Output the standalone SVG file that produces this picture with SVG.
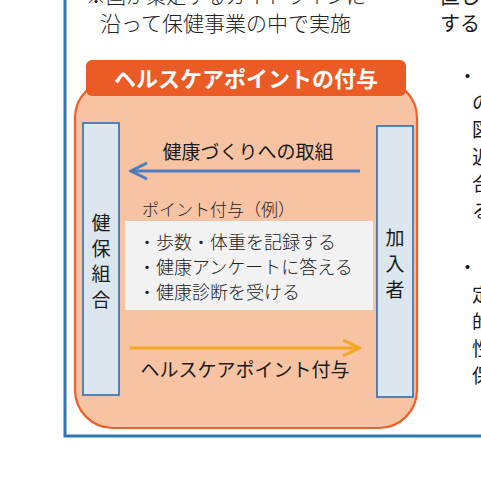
<svg xmlns="http://www.w3.org/2000/svg" width="481" height="496" viewBox="0 0 481 496">
<defs>
<style>
.t{font-family:"Noto Sans CJK JP","Noto Sans",sans-serif;fill:#1a1a1a}
.lt{font-family:"Noto Sans CJK JP","Noto Sans",sans-serif;fill:#222;font-weight:300}
.node{fill:#DCE6EE;stroke:#2E6DB4;stroke-width:1.6}
.v{font-family:"Noto Sans CJK JP","Noto Sans",sans-serif;font-size:19px;fill:#1a1a1a;text-anchor:middle}
</style>
<marker id="hb" viewBox="0 0 20 20" refX="18" refY="10" markerWidth="20" markerHeight="20" markerUnits="userSpaceOnUse" orient="auto">
<path d="M2,2 L18,10 L2,18" fill="none" stroke="#4A7EC2" stroke-width="3"/>
</marker>
<marker id="ho" viewBox="0 0 20 20" refX="18" refY="10" markerWidth="20" markerHeight="20" markerUnits="userSpaceOnUse" orient="auto">
<path d="M2,2 L18,10 L2,18" fill="none" stroke="#F5A623" stroke-width="3"/>
</marker>
</defs>
<rect width="481" height="496" fill="#fff"/>
<g id="frame">
<path d="M65,0 V436 H481" fill="none" stroke="#2E75B6" stroke-width="3"/>
</g>
<g id="top-text">
<text class="lt" x="86" y="4" font-size="20">※国が策定するガイドラインに</text>
<text class="lt" x="100" y="31" font-size="21">沿って保健事業の中で実施</text>
<text class="t" x="440" y="4" font-size="20">直し</text>
<text class="t" x="440" y="31" font-size="20">する</text>
</g>
<g id="right-text" class="t" font-size="19">
<text x="458" y="84">・</text>
<text x="472" y="110">の</text>
<text x="472" y="137">図</text>
<text x="472" y="164">近</text>
<text x="472" y="191">合</text>
<text x="472" y="218">る</text>
<text x="458" y="275">・</text>
<text x="472" y="302">定</text>
<text x="472" y="329">的</text>
<text x="472" y="356">性</text>
<text x="472" y="383">保</text>
</g>
<g id="container">
<rect x="75" y="80" width="342" height="348" rx="38" fill="#F8C3A3" stroke="#E8622A" stroke-width="2.2"/>
<rect x="86" y="60" width="320" height="36" rx="6" fill="#EA5B25"/>
<text x="246" y="87" font-family="Noto Sans CJK JP,Noto Sans,sans-serif" font-size="22" font-weight="bold" fill="#fff" text-anchor="middle">ヘルスケアポイントの付与</text>
</g>
<g id="kenpo">
<rect class="node" x="83" y="123" width="36" height="272"/>
<text class="v" x="101" y="230">健</text>
<text class="v" x="101" y="256">保</text>
<text class="v" x="101" y="281">組</text>
<text class="v" x="101" y="307">合</text>
</g>
<g id="kanyusha">
<rect class="node" x="377" y="126" width="36" height="271"/>
<text class="v" x="395" y="245">加</text>
<text class="v" x="395" y="271">入</text>
<text class="v" x="395" y="297">者</text>
</g>
<g id="examples">
<text class="lt" x="142" y="216" font-size="17">ポイント付与（例）</text>
<rect x="125" y="221" width="248" height="89" fill="#F2F2F2"/>
<text class="lt" x="138" y="249" font-size="18">・歩数・体重を記録する</text>
<text class="lt" x="138" y="274" font-size="18">・健康アンケートに答える</text>
<text class="lt" x="138" y="299" font-size="18">・健康診断を受ける</text>
</g>
<g id="connectors">
<line x1="360" y1="171" x2="131" y2="171" stroke="#4A7EC2" stroke-width="3" marker-end="url(#hb)"/>
<line x1="130" y1="348" x2="359" y2="348" stroke="#F5A623" stroke-width="3" marker-end="url(#ho)"/>
<text class="t" x="248" y="159" font-size="19" text-anchor="middle">健康づくりへの取組</text>
<text class="t" x="245" y="377" font-size="19" text-anchor="middle">ヘルスケアポイント付与</text>
</g>
</svg>
